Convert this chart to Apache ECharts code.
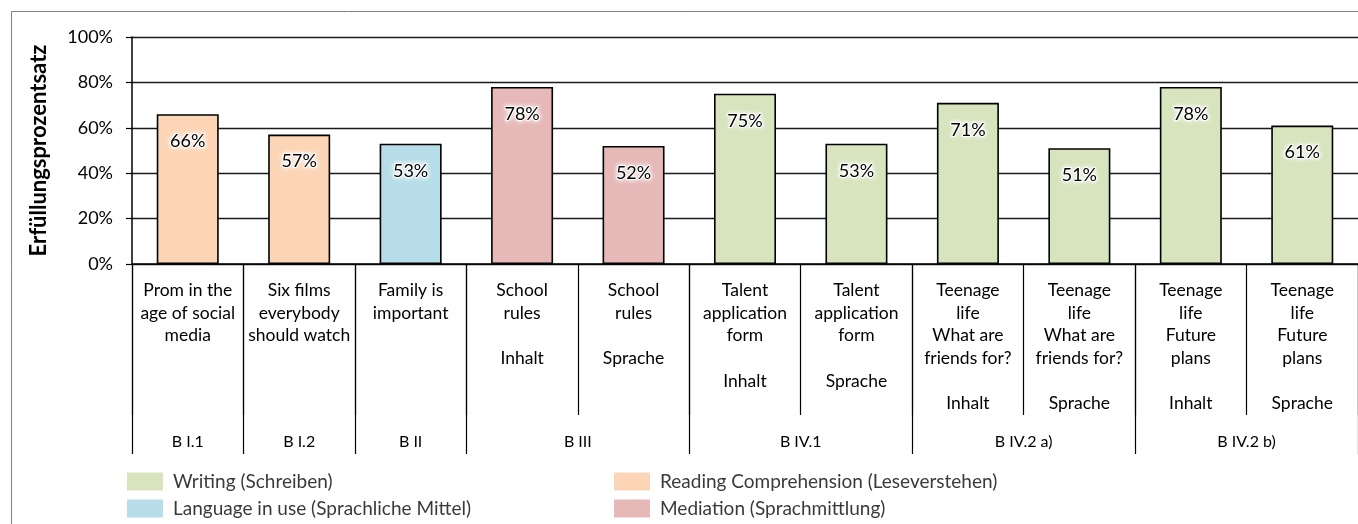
<!DOCTYPE html>
<html>
<head>
<meta charset="utf-8">
<script src="https://cdn.jsdelivr.net/npm/echarts@6/dist/echarts.min.js"></script>
<style>
	html, body { margin: 0; padding: 0; background: #fff; }
	#chart { width: 1358px; height: 524px; }
</style>
</head>
<body>
<div id="chart"></div>
<script>
	// Einzelne Aufgaben (untere Zeile der Achse)
	var categories = [
		'Prom in the\nage of social\nmedia',
		'Six films\neverybody\nshould watch',
		'Family is\nimportant',
		'School\nrules\n\nInhalt',
		'School\nrules\n\nSprache',
		'Talent\napplication\nform\n\nInhalt',
		'Talent\napplication\nform\n\nSprache',
		'Teenage\nlife\nWhat are\nfriends for?\n\nInhalt',
		'Teenage\nlife\nWhat are\nfriends for?\n\nSprache',
		'Teenage\nlife\nFuture\nplans\n\nInhalt',
		'Teenage\nlife\nFuture\nplans\n\nSprache'
	];
	var values = [66, 57, 53, 78, 52, 75, 53, 71, 51, 78, 61];
	var skills = ['Reading', 'Reading', 'Language', 'Mediation', 'Mediation',
		'Writing', 'Writing', 'Writing', 'Writing', 'Writing', 'Writing'];

	// Aufgabengruppen (obere Zeile der Achse)
	var groupNames = ['B I.1', 'B I.2', 'B II', 'B III', 'B IV.1', 'B IV.2 a)', 'B IV.2 b)'];
	var groupSpans = [1, 1, 1, 2, 2, 2, 2];

	var skillList = [
		{ key: 'Writing', name: 'Writing (Schreiben)', color: '#D7E4BD' },
		{ key: 'Reading', name: 'Reading Comprehension (Leseverstehen)', color: '#FBD5B5' },
		{ key: 'Language', name: 'Language in use (Sprachliche Mittel)', color: '#B7DEE8' },
		{ key: 'Mediation', name: 'Mediation (Sprachmittlung)', color: '#E6B9B8' }
	];

	var font = 'Lato';

	var groupBounds = [0];
	var groupCenters = [];
	groupSpans.forEach(function (s, i) {
		var start = groupBounds[i];
		groupCenters.push(start + s / 2);
		groupBounds.push(start + s);
	});

	var series = skillList.map(function (sk) {
		return {
			name: sk.name,
			type: 'bar',
			stack: 'all',
			barWidth: 62,
			xAxisIndex: 0,
			itemStyle: { color: sk.color, borderColor: '#000', borderWidth: 1.6 },
			label: {
				show: true,
				position: 'insideTop',
				distance: 18,
				fontFamily: font,
				fontSize: 18,
				color: '#000',
				textBorderColor: '#fff',
				textBorderWidth: 2,
				textShadowColor: '#fff',
				textShadowBlur: 5,
				formatter: function (p) { return p.value + '%'; }
			},
			data: values.map(function (v, i) { return skills[i] === sk.key ? v : '-'; })
		};
	});

	var legendBase = {
		orient: 'vertical',
		top: 472,
		padding: 0,
		itemWidth: 36,
		itemHeight: 18,
		itemGap: 8,
		icon: 'rect',
		itemStyle: { borderWidth: 0 },
		textStyle: { fontFamily: font, fontSize: 19, color: '#3a3a3a', padding: [0, 0, 0, 5] }
	};

	var chart = echarts.init(document.getElementById('chart'));
	chart.setOption({
		animation: false,
		backgroundColor: '#fff',
		textStyle: { fontFamily: font },
		graphic: [{
			type: 'rect',
			shape: { x: 11.5, y: 11.5, width: 1400, height: 600 },
			style: { fill: 'none', stroke: '#808080', lineWidth: 1 },
			silent: true
		}],
		grid: { left: 132, right: 0, top: 37, bottom: 260 },
		legend: [
			Object.assign({ data: [skillList[0].name, skillList[2].name], left: 127 }, legendBase),
			Object.assign({ data: [skillList[1].name, skillList[3].name], left: 614 }, legendBase)
		],
		xAxis: [{
			type: 'category',
			data: categories,
			position: 'bottom',
			axisLine: { lineStyle: { color: '#000', width: 1.5 } },
			axisTick: { show: true, interval: 0, length: 151, lineStyle: { color: '#000', width: 1.2 } },
			axisLabel: {
				interval: 0,
				margin: 15,
				fontFamily: font,
				fontSize: 17.5,
				lineHeight: 22.7,
				color: '#000',
				verticalAlign: 'top'
			}
		}, {
			type: 'value',
			position: 'bottom',
			min: 0,
			max: categories.length,
			axisLine: { show: false },
			splitLine: { show: false },
			axisTick: {
				show: true,
				length: 190,
				customValues: groupBounds,
				lineStyle: { color: '#000', width: 1.2 }
			},
			axisLabel: {
				margin: 170,
				customValues: groupCenters,
				fontFamily: font,
				fontSize: 16,
				color: '#000',
				formatter: function (v) {
					var i = groupCenters.indexOf(v);
					return i >= 0 ? groupNames[i] : '';
				}
			}
		}],
		yAxis: {
			type: 'value',
			min: 0,
			max: 100,
			interval: 20,
			name: 'Erfüllungsprozentsatz',
			nameLocation: 'middle',
			nameGap: 82,
			nameTextStyle: { fontFamily: font, fontSize: 22, fontWeight: 'bold', color: '#000' },
			axisLine: { show: true, lineStyle: { color: '#000', width: 1.5 } },
			axisTick: { show: true, length: 6, lineStyle: { color: '#000', width: 1.2 } },
			axisLabel: {
				margin: 19,
				fontFamily: font,
				fontSize: 18,
				color: '#000',
				formatter: '{value}%'
			},
			splitLine: { lineStyle: { color: '#1a1a1a', width: 1.3 } }
		},
		series: series
	});
</script>
</body>
</html>
